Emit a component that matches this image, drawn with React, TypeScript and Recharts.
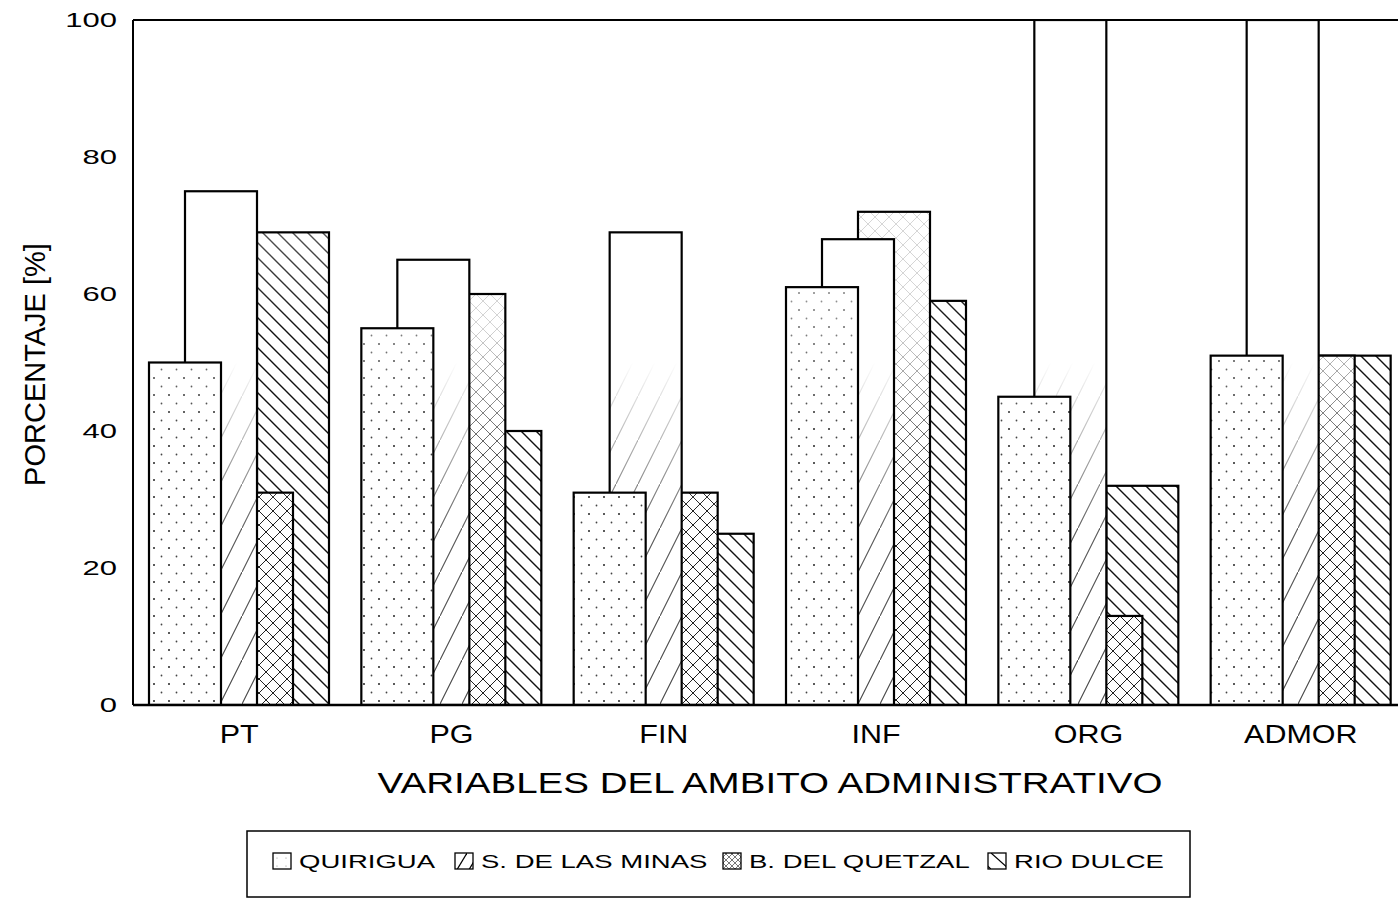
import React from 'react';
import { Bar, BarChart, Label, Legend, ReferenceLine, XAxis, YAxis } from 'recharts';

const categories = ['PT', 'PG', 'FIN', 'INF', 'ORG', 'ADMOR'];
const quirigua = [50, 55, 31, 61, 45, 51];
const sDeLasMinas = [75, 65, 69, 68, 100, 100];
const bDelQuetzal = [31, 60, 31, 72, 13, 51];
const rioDulce = [69, 40, 25, 59, 32, 51];
const yTicks = [0, 20, 40, 60, 80, 100];

const series = [
  { key: 'quirigua', name: 'QUIRIGUA', values: quirigua, pattern: 'pat-q', fade: 'fade-q' },
  { key: 'minas', name: 'S. DE LAS MINAS', values: sDeLasMinas, pattern: 'pat-s', fade: 'fade-s' },
  { key: 'quetzal', name: 'B. DEL QUETZAL', values: bDelQuetzal, pattern: 'pat-b', fade: 'fade-b' },
  { key: 'dulce', name: 'RIO DULCE', values: rioDulce, pattern: 'pat-r', fade: 'fade-r' },
];

const data = categories.map((name, i) => {
  const row: Record<string, string | number> = { name };
  series.forEach((s) => {
    row[s.key] = s.values[i];
  });
  return row;
});

const FONT = '"Liberation Sans", Arial, Helvetica, sans-serif';
const BAR_SIZE = 72;
const BAR_GAP = -36;

// bars are drawn back-to-front (last series first) so the first series sits in front;
// the shape mirrors each bar back to its own slot inside the group
const drawOrder = [...series].reverse();

const makeShape = (drawIndex: number, patternId: string, fadeId: string) => (props: any) => {
  const { x, y, width, height } = props;
  const shift = (drawOrder.length - 1 - 2 * drawIndex) * (BAR_SIZE + BAR_GAP);
  const bx = x + shift;
  return (
    <g>
      <rect x={bx} y={y} width={width} height={height} fill="#fff" />
      <rect
        x={bx}
        y={y}
        width={width}
        height={height}
        fill={`url(#${patternId})`}
        mask={`url(#${fadeId})`}
      />
      <rect x={bx} y={y} width={width} height={height} fill="none" stroke="#000" strokeWidth={2.2} />
    </g>
  );
};

const YTick = ({ x, y, payload }: any) => (
  <text
    transform={`translate(${x},${y}) scale(1.55,1)`}
    textAnchor="end"
    dominantBaseline="central"
    fontSize={20}
    fontFamily={FONT}
    fill="#000"
  >
    {payload.value}
  </text>
);

const XTick = ({ x, y, payload }: any) => (
  <text
    transform={`translate(${x},${y}) scale(1.22,1)`}
    y={18}
    textAnchor="middle"
    fontSize={25}
    fontFamily={FONT}
    fill="#000"
  >
    {payload.value}
  </text>
);

const XTitle = ({ viewBox }: any) => (
  <text
    transform={`translate(${viewBox.x + viewBox.width / 2},${viewBox.y + 88}) scale(1.33,1)`}
    textAnchor="middle"
    fontSize={29}
    fontFamily={FONT}
    fill="#000"
  >
    VARIABLES DEL AMBITO ADMINISTRATIVO
  </text>
);

const YTitle = ({ viewBox }: any) => {
  const cx = viewBox.x + 35;
  const cy = viewBox.y + viewBox.height / 2 + 2;
  return (
    <text
      transform={`translate(${cx},${cy}) rotate(-90)`}
      textAnchor="middle"
      dominantBaseline="central"
      fontSize={29}
      fontFamily={FONT}
      fill="#000"
    >
      PORCENTAJE [%]
    </text>
  );
};

const legendSwatchX = [27, 209, 477, 742];

const LegendBox = () => (
  <svg width={946} height={70} style={{ display: 'block' }}>
    <rect x={1} y={1} width={943} height={66} fill="#fff" stroke="#000" strokeWidth={1.5} />
    {series.map((s, i) => (
      <g key={s.key}>
        <rect x={legendSwatchX[i]} y={23} width={18} height={16} fill="#fff" />
        <rect x={legendSwatchX[i]} y={23} width={18} height={16} fill={`url(#${s.pattern}-legend)`} />
        <rect x={legendSwatchX[i]} y={23} width={18} height={16} fill="none" stroke="#000" strokeWidth={1.3} />
        <text
          transform={`translate(${legendSwatchX[i] + 26},${38}) scale(1.53,1)`}
          fontSize={18}
          fontFamily={FONT}
          fill="#000"
        >
          {s.name}
        </text>
      </g>
    ))}
    <defs>
      <pattern id="pat-q-legend" width="9" height="8" patternUnits="userSpaceOnUse">
        <circle cx="4" cy="4" r="0.6" fill="#888" />
      </pattern>
      <pattern id="pat-s-legend" width="12" height="20" patternUnits="userSpaceOnUse" x="5" y="3">
        <line x1="0" y1="20" x2="12" y2="0" stroke="#000" strokeWidth="1.2" />
      </pattern>
      <pattern id="pat-b-legend" width="6" height="6" patternUnits="userSpaceOnUse">
        <path d="M0 0 L6 6 M6 0 L0 6" stroke="#555" strokeWidth="0.8" />
      </pattern>
      <pattern id="pat-r-legend" width="18" height="16" patternUnits="userSpaceOnUse" x="745" y="23">
        <line x1="0" y1="0" x2="18" y2="16" stroke="#000" strokeWidth="1.3" />
      </pattern>
    </defs>
  </svg>
);

function FadeMask({ id, stops }: { id: string; stops: [number, number][] }) {
  return (
    <>
      <linearGradient id={`${id}-grad`} gradientUnits="userSpaceOnUse" x1="0" y1="705" x2="0" y2="20">
        {stops.map(([o, v], i) => (
          <stop key={i} offset={o} stopColor="#fff" stopOpacity={v} />
        ))}
      </linearGradient>
      <mask id={id} maskUnits="userSpaceOnUse" x="0" y="0" width="1500" height="900">
        <rect x="0" y="0" width="1500" height="900" fill={`url(#${id}-grad)`} />
      </mask>
    </>
  );
}

export default function App() {
  return (
    <div
      style={{
        position: 'fixed',
        left: 0,
        top: 0,
        width: 1398,
        height: 899,
        overflow: 'hidden',
        background: '#fff',
      }}
    >
      <BarChart
        width={1420}
        height={899}
        data={data}
        margin={{ top: 20, right: 13, left: 0, bottom: 134 }}
        barSize={BAR_SIZE}
        barGap={BAR_GAP}
      >
        <defs>
          <pattern id="pat-q" width="15" height="17" patternUnits="userSpaceOnUse">
            <circle cx="4" cy="4" r="1" fill="#222" />
            <circle cx="11.5" cy="12.5" r="0.9" fill="#444" />
          </pattern>
          <pattern id="pat-s" width="22" height="44" patternUnits="userSpaceOnUse">
            <line x1="0" y1="44" x2="22" y2="0" stroke="#444" strokeWidth="1.1" />
          </pattern>
          <pattern id="pat-b" width="14" height="14" patternUnits="userSpaceOnUse">
            <path d="M0 0 L14 14 M14 0 L0 14" stroke="#222" strokeWidth="1" />
          </pattern>
          <pattern id="pat-r" width="15" height="15" patternUnits="userSpaceOnUse">
            <path d="M0 0 L15 15 M-2 13 L2 17 M13 -2 L17 2" stroke="#111" strokeWidth="1.4" />
          </pattern>
          <FadeMask id="fade-q" stops={[[0, 1], [0.4, 1], [0.75, 0.25], [1, 0.2]]} />
          <FadeMask id="fade-s" stops={[[0, 1], [0.25, 0.9], [0.5, 0], [1, 0]]} />
          <FadeMask id="fade-b" stops={[[0, 1], [0.28, 1], [0.55, 0.2], [1, 0.15]]} />
          <FadeMask id="fade-r" stops={[[0, 1], [0.55, 1], [0.85, 0.4], [1, 0.35]]} />
        </defs>
        <XAxis
          dataKey="name"
          height={60}
          axisLine={{ stroke: '#000', strokeWidth: 2.5 }}
          tickLine={false}
          tickSize={6}
          tickMargin={14}
          tick={<XTick />}
          interval={0}
        >
          <Label position="bottom" content={<XTitle />} />
        </XAxis>
        <YAxis
          width={133}
          domain={[0, 100]}
          ticks={yTicks}
          allowDataOverflow
          axisLine={{ stroke: '#000', strokeWidth: 2 }}
          tickLine={false}
          tickSize={6}
          tickMargin={10}
          tick={<YTick />}
        >
          <Label position="left" content={<YTitle />} />
        </YAxis>
        <ReferenceLine y={100} stroke="#000" strokeWidth={2} />
        {drawOrder.map((s, j) => (
          <Bar
            key={s.key}
            dataKey={s.key}
            name={s.name}
            isAnimationActive={false}
            shape={makeShape(j, s.pattern, s.fade)}
          />
        ))}
        <Legend
          content={<LegendBox />}
          wrapperStyle={{ position: 'absolute', left: 246, top: 830, width: 0, height: 0 }}
        />
      </BarChart>
    </div>
  );
}
